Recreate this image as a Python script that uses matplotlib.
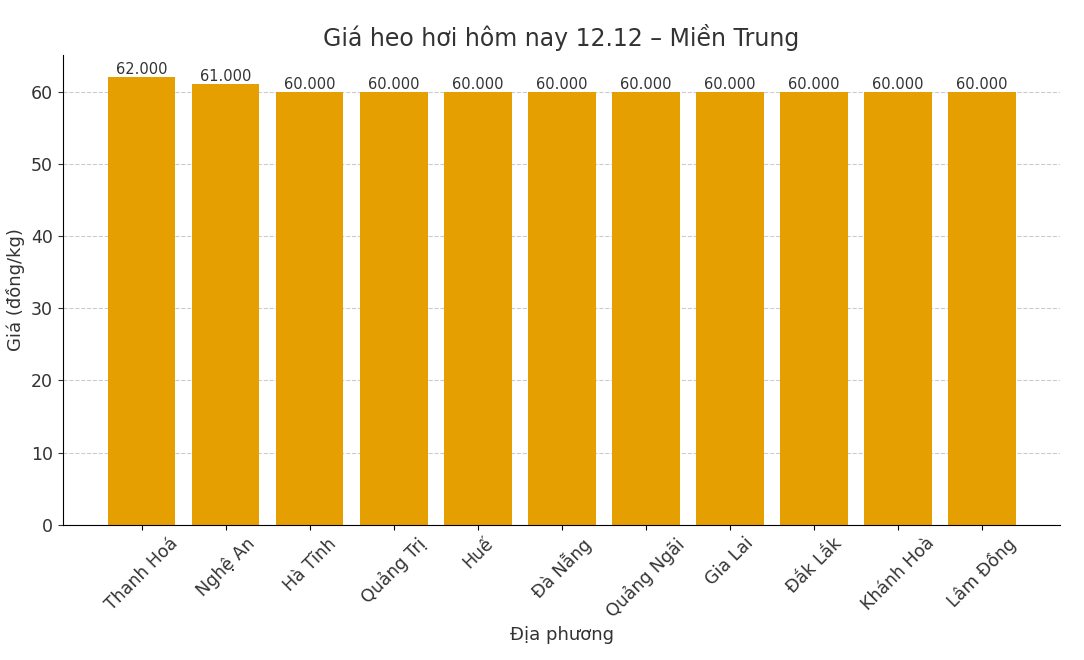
import matplotlib
matplotlib.use("Agg")
import matplotlib.pyplot as plt

provinces = ["Thanh Hoá", "Nghệ An", "Hà Tĩnh", "Quảng Trị", "Huế", "Đà Nẵng",
             "Quảng Ngãi", "Gia Lai", "Đắk Lắk", "Khánh Hoà", "Lâm Đồng"]
prices = [62, 61, 60, 60, 60, 60, 60, 60, 60, 60, 60]
labels = ["62.000", "61.000", "60.000", "60.000", "60.000", "60.000",
          "60.000", "60.000", "60.000", "60.000", "60.000"]

plt.rcParams["font.family"] = ["DejaVu Sans"]
fig = plt.figure(figsize=(10.84, 6.6), dpi=100)
ax = fig.add_axes([0.058, 0.205, 0.92, 0.712])
x = range(len(provinces))
bars = ax.bar(x, prices, color="#E69F00", width=0.8, zorder=2)
for b, t in zip(bars, labels):
    ax.text(b.get_x() + b.get_width() / 2, b.get_height(), t, ha="center",
            va="bottom", fontsize=10.5, color="#333333")
ax.set_xticks(list(x))
ax.set_xticklabels(provinces, rotation=45, fontsize=12.5, color="#333333")
ax.tick_params(axis="y", labelsize=12.5, colors="#333333")
ax.set_ylim(0, 65.1)
ax.set_xlim(-0.94, 10.93)
ax.grid(axis="y", linestyle="--", color="#cccccc", linewidth=0.8, zorder=0)
ax.spines["top"].set_visible(False)
ax.spines["right"].set_visible(False)
ax.set_title("Giá heo hơi hôm nay 12.12 – Miền Trung", fontsize=17, color="#333333", pad=6)
ax.set_xlabel("Địa phương", fontsize=13, color="#333333")
ax.set_ylabel("Giá (đồng/kg)", fontsize=13, color="#333333")
fig.savefig("out.png", dpi=100)
